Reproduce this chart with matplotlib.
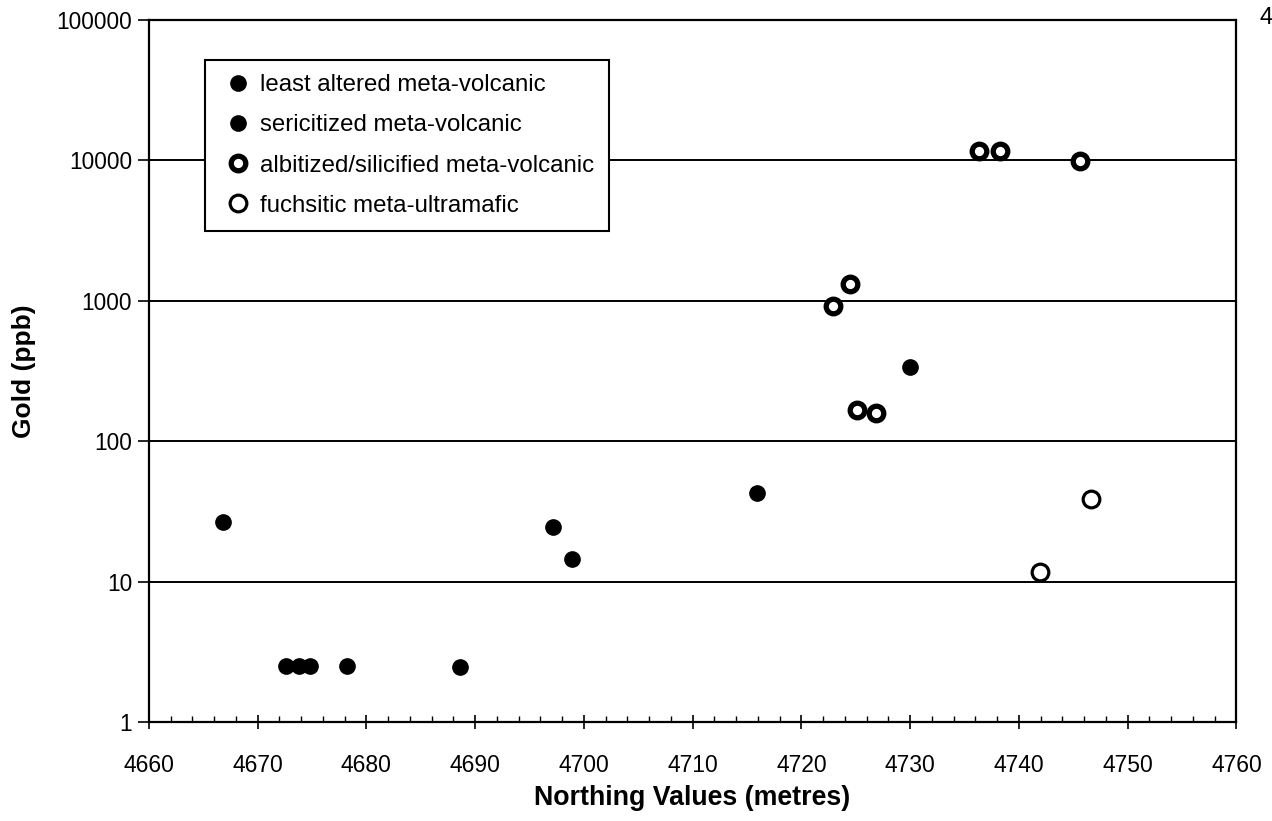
import matplotlib
matplotlib.use("Agg")
import matplotlib.pyplot as plt
from matplotlib.ticker import FixedLocator, MultipleLocator, NullLocator
import numpy as np

plt.rcParams['font.family'] = ['Liberation Sans', 'DejaVu Sans']

# Gold vs northing, by alteration type
least_x = [4666.8, 4672.6, 4673.8, 4674.8, 4678.2, 4688.6, 4697.2, 4698.9]
least_y = [26.5, 2.5, 2.5, 2.5, 2.5, 2.45, 24.5, 14.4]
seric_x = [4715.9, 4730.0]
seric_y = [43, 338]
albit_x = [4722.9, 4724.5, 4725.1, 4726.9, 4736.3, 4738.3, 4745.6]
albit_y = [925, 1307, 167, 158, 11650, 11650, 9950]
fuchs_x = [4741.9, 4746.6]
fuchs_y = [11.7, 38.9]

labels = ["least altered meta-volcanic", "sericitized meta-volcanic",
          "albitized/silicified meta-volcanic", "fuchsitic meta-ultramafic"]
y_ticks = [1, 10, 100, 1000, 10000, 100000]

fig = plt.figure(figsize=(12.72, 8.21), dpi=100)
ax = fig.add_axes([0.117, 0.1206, 0.855, 0.855])

ax.set_yscale('log')
ax.set_xlim(4660, 4760)
ax.set_ylim(1, 100000)

# horizontal decade gridlines
for v in y_ticks[1:-1]:
    ax.axhline(v, color='black', lw=1.4, zorder=1)

ax.plot(least_x, least_y, 'o', color='black', ms=11, ls='none', label=labels[0], zorder=3)
ax.plot(seric_x, seric_y, 'o', color='black', ms=11, ls='none', label=labels[1], zorder=3)
ax.plot(albit_x, albit_y, 'o', mfc='white', mec='black', mew=3.8, ms=10.5, ls='none',
        label=labels[2], zorder=3)
ax.plot(fuchs_x, fuchs_y, 'o', mfc='white', mec='black', mew=2.3, ms=12, ls='none',
        label=labels[3], zorder=3)

ax.yaxis.set_major_locator(FixedLocator(y_ticks))
ax.yaxis.set_minor_locator(NullLocator())
ax.set_yticklabels([str(v) for v in y_ticks])
ax.xaxis.set_major_locator(MultipleLocator(10))
ax.xaxis.set_minor_locator(MultipleLocator(2))

ax.tick_params(axis='y', direction='out', length=8, width=1.2, labelsize=16.3, pad=4)
ax.tick_params(axis='x', which='major', direction='inout', length=10, width=1.2,
               labelsize=16.5, pad=18)
ax.tick_params(axis='x', which='minor', direction='in', length=4, width=1)

for s in ax.spines.values():
    s.set_linewidth(1.6)

ax.set_xlabel("Northing Values (metres)", fontsize=19.3, fontweight='bold', labelpad=6)
ax.set_ylabel("Gold (ppb)", fontsize=19, fontweight='bold')
ax.yaxis.set_label_coords(-0.104, 0.5)

leg = ax.legend(loc='upper left', bbox_to_anchor=(0.0515, 0.943), borderaxespad=0,
                fontsize=17.3, frameon=True, fancybox=False, edgecolor='black',
                framealpha=1, handlelength=1.6, handletextpad=0.1, labelspacing=0.75,
                borderpad=0.6, markerscale=1.0)
leg.get_frame().set_linewidth(1.5)

fig.text(0.995, 0.978, "4", fontsize=17, ha='center', va='center')

fig.savefig("out.png", dpi=100)
